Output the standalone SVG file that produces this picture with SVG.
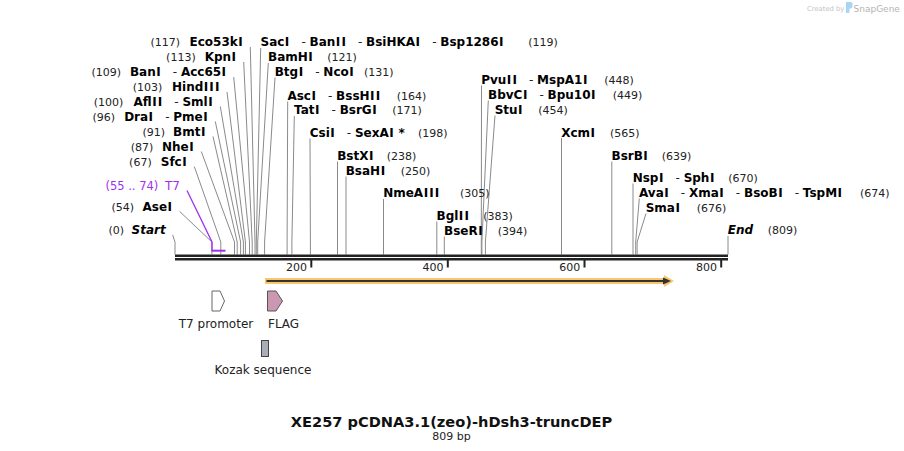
<svg xmlns="http://www.w3.org/2000/svg" width="904" height="451" viewBox="0 0 904 451">
<style>
text{font-family:"DejaVu Sans",Verdana,sans-serif}
.b{font-weight:bold;font-size:12px;fill:#000}
.bi{font-weight:bold;font-style:italic;font-size:12px;fill:#000}
.s{font-weight:normal;font-size:12px;fill:#222}
.I{letter-spacing:0.6px}
.n{font-size:11px;fill:#222}
.p{fill:#a030f0}
.ln{fill:none;stroke:#8a8a8a;stroke-width:1}
.tk{fill:#222}
.tl{font-size:11px;fill:#222;text-anchor:end}
.fl{font-size:12px;fill:#222;text-anchor:middle}
</style>
<rect width="904" height="451" fill="#fff"/>
<g id="watermark">
<text x="807" y="10.5" font-size="6.8" fill="#c4c4c4">Created by</text>
<path d="M846,2h5q1.5,0 1.5,1.5v3q0,2 -2,2h-1v3q0,1.5 -1.5,1.5h-2z" fill="#a9d5f3"/>
<text x="853.5" y="11.5" font-size="9" fill="#b4b4b4">SnapGene</text>
</g>
<g id="connectors">
<path class="ln" d="M250.3,47L255,242V254.5"/>
<path class="ln" d="M243.7,62L252.2,242V254.5"/>
<path class="ln" d="M233.7,77L249.5,242V254.5"/>
<path class="ln" d="M227,92L245.4,242V254.5"/>
<path class="ln" d="M220.3,106.5L243.4,242V254.5"/>
<path class="ln" d="M215.3,121.5L240.6,242V254.5"/>
<path class="ln" d="M213,136.5L237.2,242V254.5"/>
<path class="ln" d="M201.3,151.5L234.5,242V254.5"/>
<path class="ln" d="M194.3,166.5L220.8,242V254.5"/>
<path class="ln" d="M179.7,211.5L211.9,242V254.5"/>
<path class="ln" d="M172.7,235L175,242V254.5"/>
<path class="ln" d="M260.7,48L256.3,242V254.5"/>
<path class="ln" d="M268.3,63L257.7,242V254.5"/>
<path class="ln" d="M275,77.5L264.6,242V254.5"/>
<path class="ln" d="M287.7,101.5L287.1,242V254.5"/>
<path class="ln" d="M294.3,116L291.9,242V254.5"/>
<path class="ln" d="M310,138.5L310.4,242V254.5"/>
<path class="ln" d="M337.5,161.5V254.5"/>
<path class="ln" d="M346,176.5V254.5"/>
<path class="ln" d="M383.5,199V254.5"/>
<path class="ln" d="M436.8,221.5V254.5"/>
<path class="ln" d="M444.3,236.5V254.5"/>
<path class="ln" d="M481.5,85.5L481.3,242V254.5"/>
<path class="ln" d="M488.3,100.5L481.9,242V254.5"/>
<path class="ln" d="M495,115.5L485.4,242V254.5"/>
<path class="ln" d="M561.5,138V254.5"/>
<path class="ln" d="M611.8,161.5V254.5"/>
<path class="ln" d="M633,183.5V254.5"/>
<path class="ln" d="M639.3,198.5L635.7,242V254.5"/>
<path class="ln" d="M646,213.5L637.1,242V254.5"/>
<path class="ln" d="M728,236V254.5"/>
<path d="M187,190.5L212,242V250.7" fill="none" stroke="#a030f0" stroke-width="1.3"/>
</g>
<g id="ruler">
<rect x="175" y="254.5" width="553" height="2.5" class="tk"/>
<rect x="175" y="258" width="553" height="2.5" class="tk"/>
<rect x="310.3" y="260" width="2" height="7.5" class="tk"/>
<rect x="446.8" y="260" width="2" height="7.5" class="tk"/>
<rect x="583.5" y="260" width="2" height="7.5" class="tk"/>
<rect x="720.2" y="260" width="2" height="7.5" class="tk"/>
<text class="tl" x="307" y="270.5">200</text>
<text class="tl" x="443.5" y="270.5">400</text>
<text class="tl" x="580.3" y="270.5">600</text>
<text class="tl" x="717" y="270.5">800</text>
</g>
<g id="T7site">
<rect x="211.5" y="249.7" width="14" height="2" fill="#a030f0"/>
<text x="180" y="189.5" text-anchor="end" font-size="12" class="p">T7</text>
<text x="158.3" y="189.5" text-anchor="end" font-size="11.5" class="p">(55 .. 74)</text>
</g>
<g id="Start"><text class="bi" x="165.7" y="234" text-anchor="end">Start</text><text class="n" x="124" y="234" text-anchor="end">(0)</text></g>
<g id="AseI"><text class="b" x="172.7" y="210.5" text-anchor="end">Ase<tspan class="I" dx="0.5">I</tspan></text><text class="n" x="134" y="210.5" text-anchor="end">(54)</text></g>
<g id="SfcI"><text class="b" x="187.3" y="165.5" text-anchor="end">Sfc<tspan class="I" dx="0.5">I</tspan></text><text class="n" x="151.7" y="165.5" text-anchor="end">(67)</text></g>
<g id="NheI"><text class="b" x="194.3" y="150.5" text-anchor="end">Nhe<tspan class="I" dx="0.5">I</tspan></text><text class="n" x="153.3" y="150.5" text-anchor="end">(87)</text></g>
<g id="BmtI"><text class="b" x="206" y="135.5" text-anchor="end">Bmt<tspan class="I" dx="0.5">I</tspan></text><text class="n" x="165" y="135.5" text-anchor="end">(91)</text></g>
<g id="DraI"><text class="b" x="208.3" y="120.5" text-anchor="end" xml:space="preserve">Dra<tspan class="I" dx="0.5">I</tspan><tspan class="s">   - </tspan>Pme<tspan class="I" dx="0.5">I</tspan></text><text class="n" x="115" y="120.5" text-anchor="end">(96)</text></g>
<g id="AflII"><text class="b" x="213.3" y="105.5" text-anchor="end" xml:space="preserve">Afl<tspan class="I" dx="0.5">I</tspan><tspan class="I" dx="0.5">I</tspan><tspan class="s">   - </tspan>Sml<tspan class="I" dx="0.5">I</tspan></text><text class="n" x="123.3" y="105.5" text-anchor="end">(100)</text></g>
<g id="HindIII"><text class="b" x="220" y="91" text-anchor="end">Hind<tspan class="I" dx="0.5">I</tspan><tspan class="I" dx="0.5">I</tspan><tspan class="I" dx="0.5">I</tspan></text><text class="n" x="162.3" y="91" text-anchor="end">(103)</text></g>
<g id="BanI"><text class="b" x="226.7" y="76" text-anchor="end" xml:space="preserve">Ban<tspan class="I" dx="0.5">I</tspan><tspan class="s">   - </tspan>Acc65<tspan class="I" dx="0.5">I</tspan></text><text class="n" x="121" y="76" text-anchor="end">(109)</text></g>
<g id="KpnI"><text class="b" x="236.7" y="61" text-anchor="end">Kpn<tspan class="I" dx="0.5">I</tspan></text><text class="n" x="195.7" y="61" text-anchor="end">(113)</text></g>
<g id="Eco53kI"><text class="b" x="243.3" y="46" text-anchor="end">Eco53k<tspan class="I" dx="0.5">I</tspan></text><text class="n" x="180" y="46" text-anchor="end">(117)</text></g>
<g id="SacI"><text class="b" x="260.5" y="46" xml:space="preserve">Sac<tspan class="I" dx="0.5">I</tspan><tspan class="s">   - </tspan>Ban<tspan class="I" dx="0.5">I</tspan><tspan class="I" dx="0.5">I</tspan><tspan class="s">   - </tspan>BsiHKA<tspan class="I" dx="0.5">I</tspan><tspan class="s">   - </tspan>Bsp1286<tspan class="I" dx="0.5">I</tspan></text><text class="n" x="528.3" y="46">(119)</text></g>
<g id="BamHI"><text class="b" x="268" y="61">BamH<tspan class="I" dx="0.5">I</tspan></text><text class="n" x="327.3" y="61">(121)</text></g>
<g id="BtgI"><text class="b" x="274.7" y="75.5" xml:space="preserve">Btg<tspan class="I" dx="0.5">I</tspan><tspan class="s">   - </tspan>Nco<tspan class="I" dx="0.5">I</tspan></text><text class="n" x="364" y="75.5">(131)</text></g>
<g id="AscI"><text class="b" x="287.4" y="99.5" xml:space="preserve">Asc<tspan class="I" dx="0.5">I</tspan><tspan class="s">   - </tspan>BssH<tspan class="I" dx="0.5">I</tspan><tspan class="I" dx="0.5">I</tspan></text><text class="n" x="396.7" y="99.5">(164)</text></g>
<g id="TatI"><text class="b" x="294" y="114" xml:space="preserve">Tat<tspan class="I" dx="0.5">I</tspan><tspan class="s">   - </tspan>BsrG<tspan class="I" dx="0.5">I</tspan></text><text class="n" x="392.3" y="114">(171)</text></g>
<g id="CsiI"><text class="b" x="309.7" y="136.5" xml:space="preserve">Csi<tspan class="I" dx="0.5">I</tspan><tspan class="s">   - </tspan>SexA<tspan class="I" dx="0.5">I</tspan> *</text><text class="n" x="418" y="136.5">(198)</text></g>
<g id="BstXI"><text class="b" x="337.2" y="159.5">BstX<tspan class="I" dx="0.5">I</tspan></text><text class="n" x="386.7" y="159.5">(238)</text></g>
<g id="BsaHI"><text class="b" x="345.7" y="174.5">BsaH<tspan class="I" dx="0.5">I</tspan></text><text class="n" x="400.7" y="174.5">(250)</text></g>
<g id="NmeAIII"><text class="b" x="383.2" y="197">NmeA<tspan class="I" dx="0.5">I</tspan><tspan class="I" dx="0.5">I</tspan><tspan class="I" dx="0.5">I</tspan></text><text class="n" x="460" y="197">(305)</text></g>
<g id="BglII"><text class="b" x="436.5" y="219.5">Bgl<tspan class="I" dx="0.5">I</tspan><tspan class="I" dx="0.5">I</tspan></text><text class="n" x="483.3" y="219.5">(383)</text></g>
<g id="BseRI"><text class="b" x="444" y="234.5">BseR<tspan class="I" dx="0.5">I</tspan></text><text class="n" x="497.7" y="234.5">(394)</text></g>
<g id="PvuII"><text class="b" x="481.2" y="83.5" xml:space="preserve">Pvu<tspan class="I" dx="0.5">I</tspan><tspan class="I" dx="0.5">I</tspan><tspan class="s">   - </tspan>MspA1<tspan class="I" dx="0.5">I</tspan></text><text class="n" x="604.3" y="83.5">(448)</text></g>
<g id="BbvCI"><text class="b" x="488" y="98.5" xml:space="preserve">BbvC<tspan class="I" dx="0.5">I</tspan><tspan class="s">   - </tspan>Bpu10<tspan class="I" dx="0.5">I</tspan></text><text class="n" x="612.7" y="98.5">(449)</text></g>
<g id="StuI"><text class="b" x="494.7" y="113.5">Stu<tspan class="I" dx="0.5">I</tspan></text><text class="n" x="538.3" y="113.5">(454)</text></g>
<g id="XcmI"><text class="b" x="561.2" y="136.5">Xcm<tspan class="I" dx="0.5">I</tspan></text><text class="n" x="610" y="136.5">(565)</text></g>
<g id="BsrBI"><text class="b" x="611.5" y="159.5">BsrB<tspan class="I" dx="0.5">I</tspan></text><text class="n" x="661.7" y="159.5">(639)</text></g>
<g id="NspI"><text class="b" x="632.7" y="181.5" xml:space="preserve">Nsp<tspan class="I" dx="0.5">I</tspan><tspan class="s">   - </tspan>Sph<tspan class="I" dx="0.5">I</tspan></text><text class="n" x="728.3" y="181.5">(670)</text></g>
<g id="AvaI"><text class="b" x="639" y="196.5" xml:space="preserve">Ava<tspan class="I" dx="0.5">I</tspan><tspan class="s">   - </tspan>Xma<tspan class="I" dx="0.5">I</tspan><tspan class="s">   - </tspan>BsoB<tspan class="I" dx="0.5">I</tspan><tspan class="s">   - </tspan>TspM<tspan class="I" dx="0.5">I</tspan></text><text class="n" x="860" y="196.5">(674)</text></g>
<g id="SmaI"><text class="b" x="645.7" y="211.5">Sma<tspan class="I" dx="0.5">I</tspan></text><text class="n" x="696.7" y="211.5">(676)</text></g>
<g id="End"><text class="bi" x="727.7" y="234">End</text><text class="n" x="767.7" y="234">(809)</text></g>
<g id="ORF">
<path d="M265,278H664V275L674,281L664,287V284H265Z" fill="#f9c66e"/>
<path d="M266.5,281H665" stroke="#333" stroke-width="2"/>
<path d="M663,277.5L671,281L663,284.5Z" fill="#333"/>
</g>
<g id="T7promoter">
<path d="M212,291H220L224.5,301L220,311H212Z" fill="#fff" stroke="#666" stroke-width="1"/>
<text class="fl" x="216" y="327.5">T7 promoter</text>
</g>
<g id="FLAG">
<path d="M267.5,291H276L282.5,301L276,311H267.5Z" fill="#cc98b1" stroke="#555" stroke-width="1"/>
<text x="268" y="327.5" font-size="12" fill="#222">FLAG</text>
</g>
<g id="Kozak">
<rect x="261.5" y="340.5" width="7" height="16" fill="#a9aeb6" stroke="#444" stroke-width="1"/>
<text class="fl" x="263" y="374">Kozak sequence</text>
</g>
<g id="title">
<text x="451.5" y="426.5" text-anchor="middle" font-weight="bold" font-size="14.6" fill="#111">XE257 pCDNA3.1(zeo)-hDsh3-truncDEP</text>
<text x="451.5" y="439.5" text-anchor="middle" font-size="11" fill="#222">809 bp</text>
</g>
</svg>
